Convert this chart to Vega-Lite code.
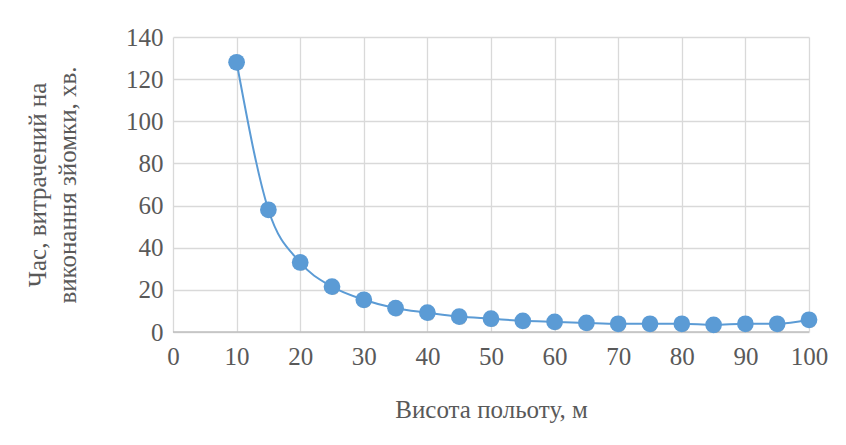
{
  "$schema": "https://vega.github.io/schema/vega-lite/v6.json",
  "autosize": {"type": "none"},
  "width": 636,
  "height": 295,
  "padding": {"left": 173, "top": 37, "right": 37, "bottom": 113},
  "background": "white",
  "config": {
    "view": {"stroke": null},
    "font": "Liberation Serif",
    "axis": {
      "labelFont": "Liberation Serif",
      "titleFont": "Liberation Serif",
      "labelFontSize": 25,
      "titleFontSize": 25,
      "labelColor": "#595959",
      "titleColor": "#595959",
      "titleFontWeight": "normal",
      "gridColor": "#d9d9d9",
      "gridWidth": 1.3,
      "gridOpacity": 1,
      "ticks": false,
      "domain": false,
      "labelFlush": false
    }
  },
  "data": {
    "values": [
      {"h": 10, "t": 128},
      {"h": 15, "t": 58},
      {"h": 20, "t": 33},
      {"h": 25, "t": 21.5},
      {"h": 30, "t": 15.3},
      {"h": 35, "t": 11.3},
      {"h": 40, "t": 9.2},
      {"h": 45, "t": 7.3},
      {"h": 50, "t": 6.3},
      {"h": 55, "t": 5.3},
      {"h": 60, "t": 4.8},
      {"h": 65, "t": 4.3},
      {"h": 70, "t": 3.9},
      {"h": 75, "t": 3.9},
      {"h": 80, "t": 3.9},
      {"h": 85, "t": 3.4},
      {"h": 90, "t": 3.9},
      {"h": 95, "t": 3.9},
      {"h": 100, "t": 5.8}
    ]
  },
  "encoding": {
    "x": {
      "field": "h",
      "type": "quantitative",
      "scale": {"domain": [0, 100], "nice": false},
      "axis": {"values": [0,10,20,30,40,50,60,70,80,90,100], "title": "Висота польоту, м", "labelPadding": 12, "titlePadding": 28}
    },
    "y": {
      "field": "t",
      "type": "quantitative",
      "scale": {"domain": [0, 140], "nice": false},
      "axis": {"values": [0,20,40,60,80,100,120,140], "title": ["Час, витрачений на", "виконання зйомки, хв."], "labelPadding": 10, "titlePadding": 45, "titleLineHeight": 30}
    }
  },
  "layer": [
    {
      "mark": {"type": "rule", "color": "#bfbfbf", "strokeWidth": 1.3},
      "data": {"values": [{"y0": 0}]},
      "encoding": {"y": {"field": "y0", "type": "quantitative"}, "x": null}
    },
    {
      "mark": {"type": "line", "interpolate": "monotone", "color": "#5B9BD5", "strokeWidth": 2}
    },
    {
      "mark": {"type": "point", "filled": true, "size": 130, "color": "#3a3a3a", "opacity": 0.3, "shape": "circle", "xOffset": 1.5, "yOffset": 2.5}
    },
    {
      "mark": {"type": "point", "filled": true, "size": 280, "color": "#5B9BD5", "opacity": 1, "shape": "circle"}
    }
  ]
}
